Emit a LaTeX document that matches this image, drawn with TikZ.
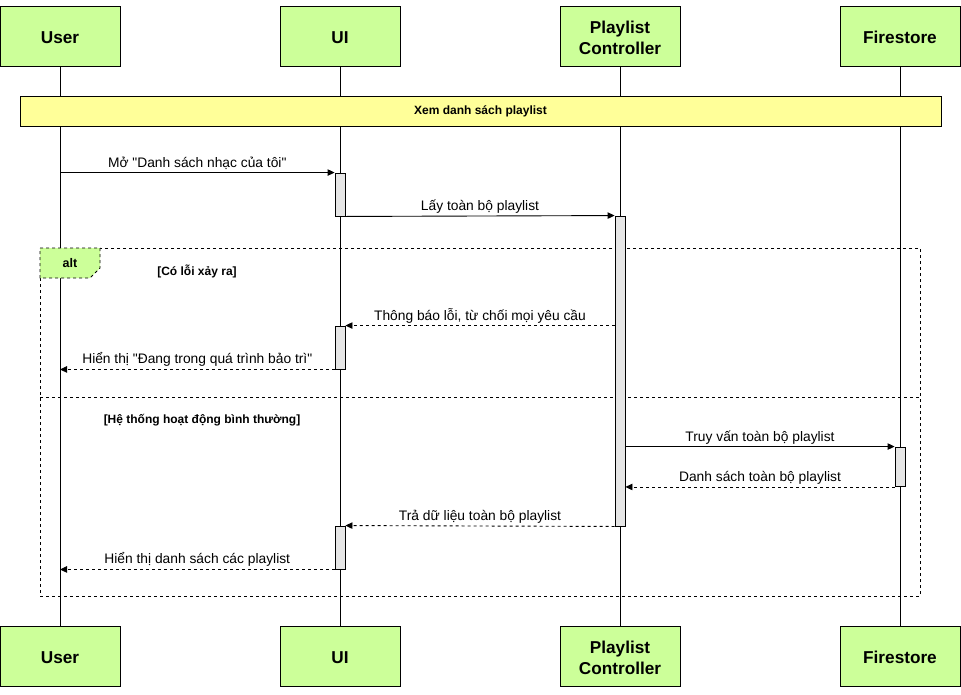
\documentclass[tikz,border=0pt]{standalone}
\usepackage{fontspec}
\setmainfont{Liberation Sans}
\usetikzlibrary{arrows.meta}
\definecolor{hdrgreen}{HTML}{CCFF99}
\definecolor{bandyellow}{HTML}{FFFF99}
\definecolor{actgray}{HTML}{E6E6E6}
\newcommand\hdstrut{\rule{0pt}{16pt}}
\tikzset{
  header/.style={draw=black, line width=1pt, fill=hdrgreen, minimum width=120pt, minimum height=60pt, inner sep=0pt, align=center, font=\fontsize{17.2}{21}\selectfont\bfseries},
  lifeline/.style={draw=black, line width=0.8pt},
  act/.style={draw=black, line width=0.9pt, fill=actgray, minimum width=10pt, inner sep=0pt},
  msg/.style={draw=black, line width=0.9pt, -{Triangle[length=7pt,width=6.5pt]}},
  ret/.style={msg, dash pattern=on 3pt off 3pt},
  lbl/.style={midway, anchor=base, yshift=5.5pt, inner sep=0pt, font=\fontsize{13.8}{16}\selectfont},
  guard/.style={inner sep=0pt, font=\fontsize{12}{14}\selectfont\bfseries},
  frame/.style={draw=black, line width=0.8pt, dash pattern=on 3pt off 3pt},
}
\begin{document}
\begin{tikzpicture}[x=1pt,y=-1pt]
\useasboundingbox (0,0) rectangle (961,694);
% headers
\node[header] (userT) at (60,36) {\hdstrut User};
\node[header] (uiT) at (340,36) {\hdstrut UI};
\node[header] (pcT) at (620,36) {\hdstrut Playlist\\Controller};
\node[header] (fsT) at (900,36) {\hdstrut Firestore};
\node[header] (userB) at (60,656) {\hdstrut User};
\node[header] (uiB) at (340,656) {\hdstrut UI};
\node[header] (pcB) at (620,656) {\hdstrut Playlist\\Controller};
\node[header] (fsB) at (900,656) {\hdstrut Firestore};
% lifelines
\draw[lifeline] (userT) -- (userB);
\draw[lifeline] (uiT) -- (uiB);
\draw[lifeline] (pcT) -- (pcB);
\draw[lifeline] (fsT) -- (fsB);
% band
\node[draw=black, line width=1pt, fill=bandyellow, minimum width=921pt, minimum height=29.5pt, inner sep=0pt, font=\fontsize{12}{14}\selectfont\bfseries] (band) at (480.5,111.5) {Xem danh sách playlist};
% alt frame
\draw[frame] (40,248) rectangle (920,596);
\draw[frame, fill=hdrgreen] (40,248) -- (100,248) -- (100,268) -- (90,278) -- (40,278) -- cycle;
\node[guard, font=\fontsize{12.5}{14}\selectfont\bfseries] (altlbl) at (70,263.5) {alt};
\node[guard] (g1) at (197,271.5) {[Có lỗi xảy ra]};
\draw[frame] (40,397) -- (920,397);
\node[guard] (g2) at (202,420.5) {[Hệ thống hoạt động bình thường]};
% activations
\node[act, minimum height=43pt] (ui1) at (340,194.5) {};
\node[act, minimum height=310pt] (pc1) at (620,371) {};
\node[act, minimum height=43pt] (ui2) at (340,347.5) {};
\node[act, minimum height=39.5pt] (fs1) at (900,466.75) {};
\node[act, minimum height=43pt] (ui3) at (340,547.5) {};
% messages
\draw[msg] (ui1.north west -| userT.south) -- node[lbl] {Mở \textquotedbl Danh sách nhạc của tôi\textquotedbl} (ui1.north west);
\draw[msg] (ui1.south east) -- node[lbl] {Lấy toàn bộ playlist} (pc1.north west);
\draw[ret] (pc1.west |- ui2.north) -- node[lbl] {Thông báo lỗi, từ chối mọi yêu cầu} (ui2.north east);
\draw[ret] (ui2.south west) -- node[lbl] {Hiển thị \textquotedbl Đang trong quá trình bảo trì\textquotedbl} (ui2.south west -| userT.south);
\draw[msg] (pc1.east |- fs1.north) -- node[lbl] {Truy vấn toàn bộ playlist} (fs1.north west);
\draw[ret] (fs1.south west) -- node[lbl] {Danh sách toàn bộ playlist} (fs1.south west -| pc1.east);
\draw[ret] (pc1.south west) -- node[lbl] {Trả dữ liệu toàn bộ playlist} (ui3.north east);
\draw[ret] (ui3.south west) -- node[lbl] {Hiển thị danh sách các playlist} (ui3.south west -| userT.south);
\end{tikzpicture}
\end{document}
